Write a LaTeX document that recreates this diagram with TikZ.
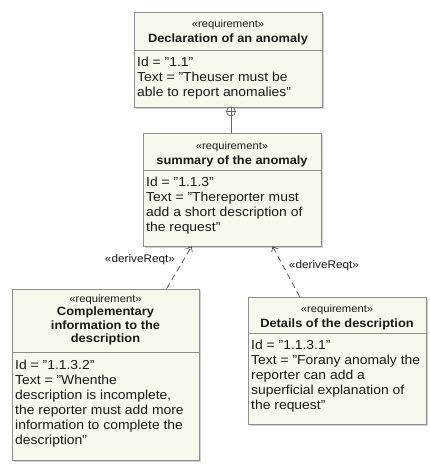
\documentclass[tikz,border=0pt]{standalone}
\usepackage{fontspec}
\setmainfont{Liberation Sans}[FakeStretch=1.07]
\usetikzlibrary{arrows.meta,shadows}
\definecolor{boxfill}{HTML}{F6F9EC}
\definecolor{boxline}{HTML}{8E8E8E}
\definecolor{txt}{HTML}{1A1A1A}
\begin{document}
\begin{tikzpicture}[x=1pt,y=-1pt,
  reqbox/.style={draw=boxline, line width=0.8pt, fill=boxfill, rectangle, inner sep=0pt,
     drop shadow={opacity=0.35, shadow xshift=2pt, shadow yshift=-2pt}},
  sepline/.style={draw=boxline, line width=0.7pt},
  stereo/.style={inner sep=0pt, anchor=base, text=txt, font=\fontsize{10.5}{12}\selectfont},
  ttl/.style={inner sep=0pt, anchor=base, text=txt, font=\fontsize{12}{14}\selectfont\bfseries},
  bodyl/.style={inner sep=0pt, anchor=base west, text=txt, font=\fontsize{13}{15}\selectfont},
  lbl/.style={inner sep=0pt, anchor=base, text=txt, font=\fontsize{11}{13}\selectfont},
  derive/.style={draw=txt!80, line width=0.7pt, dash pattern=on 6pt off 4pt, -{Straight Barb[length=4pt,width=7pt]}},
  contain/.style={draw=boxline!70!black, line width=0.7pt}
]
\useasboundingbox[fill=white] (0,0) rectangle (430,464);

% Box 1
\node[reqbox, minimum width=188pt, minimum height=95pt] (b1) at (228,59.5) {};
\draw[sepline] (b1.west |- 0,50) -- (b1.east |- 0,50);
\node[stereo] (b1s) at (228,27) {«requirement»};
\node[ttl] (b1t) at (228,42.5) {Declaration of an anomaly};
\node[bodyl] (b1a) at (137,66.5) {Id = "1.1"};
\node[bodyl] (b1b) at (137,81.5) {Text = "Theuser must be};
\node[bodyl] (b1c) at (137,96.5) {able to report anomalies"};

% Box 2
\node[reqbox, minimum width=178pt, minimum height=113pt] (b2) at (232,189.5) {};
\draw[sepline] (b2.west |- 0,170) -- (b2.east |- 0,170);
\node[stereo] (b2s) at (232,149) {«requirement»};
\node[ttl] (b2t) at (232,164.5) {summary of the anomaly};
\node[bodyl] (b2a) at (146,186.5) {Id = "1.1.3"};
\node[bodyl] (b2b) at (146,201.5) {Text = "Thereporter must};
\node[bodyl] (b2c) at (146,216.5) {add a short description of};
\node[bodyl] (b2d) at (146,231.5) {the request"};

% Box 3
\node[reqbox, minimum width=187pt, minimum height=171pt] (b3) at (105.5,374.5) {};
\draw[sepline] (b3.west |- 0,352) -- (b3.east |- 0,352);
\node[stereo] (b3s) at (105.5,302) {«requirement»};
\node[ttl] (b3t) at (105.5,315.5) {Complementary};
\node[ttl] (b3u) at (105.5,329) {information to the};
\node[ttl] (b3v) at (105.5,342.5) {description};
\node[bodyl] (b3a) at (15,369.5) {Id = "1.1.3.2"};
\node[bodyl] (b3b) at (15,384.5) {Text = "Whenthe};
\node[bodyl] (b3c) at (15,399.5) {description is incomplete,};
\node[bodyl] (b3d) at (15,414.5) {the reporter must add more};
\node[bodyl] (b3e) at (15,429.5) {information to complete the};
\node[bodyl] (b3f) at (15,444.5) {description"};

% Box 4
\node[reqbox, minimum width=178pt, minimum height=127pt] (b4) at (337,360.5) {};
\draw[sepline] (b4.west |- 0,333) -- (b4.east |- 0,333);
\node[stereo] (b4s) at (337,312) {«requirement»};
\node[ttl] (b4t) at (337,327) {Details of the description};
\node[bodyl] (b4a) at (251,349.5) {Id = "1.1.3.1"};
\node[bodyl] (b4b) at (251,364.5) {Text = "Forany anomaly the};
\node[bodyl] (b4c) at (251,379.5) {reporter can add a};
\node[bodyl] (b4d) at (251,394.5) {superficial explanation of};
\node[bodyl] (b4e) at (251,409.5) {the request"};

% Containment
\node[contain, circle, fill=white, minimum size=9pt, inner sep=0pt] (cc) at (231,111.5) {};
\draw[contain] (cc.north) -- (cc.south) (cc.west) -- (cc.east);
\draw[contain] (cc.south) -- (b2.north -| cc.south);

% deriveReqt
\draw[derive] ([xshift=155pt]b3.north west) -- ([xshift=49pt]b2.south west);
\draw[derive] ([xshift=52pt]b4.north west) -- ([xshift=130pt]b2.south west);
\node[lbl] (l1) at (140,262) {«deriveReqt»};
\node[lbl] (l2) at (324,268) {«deriveReqt»};
\end{tikzpicture}
\end{document}
